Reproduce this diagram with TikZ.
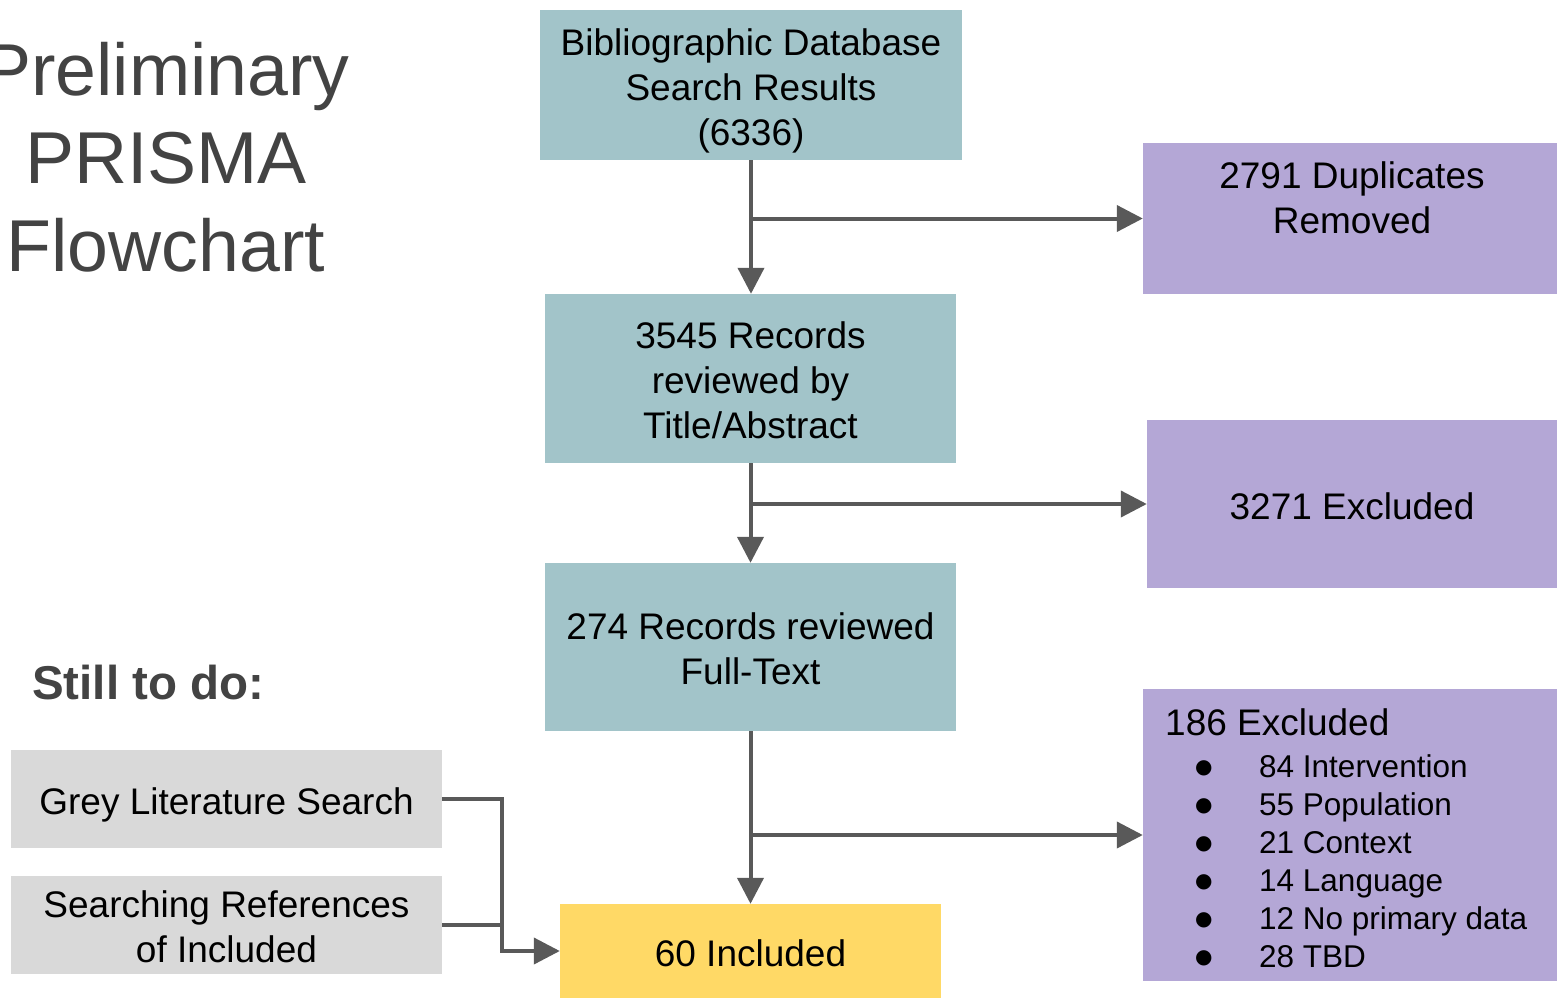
\documentclass[tikz,border=0pt]{standalone}
\usepackage{fontspec}
\setmainfont{Liberation Sans}
\newfontfamily\symfont{DejaVu Sans}
\usetikzlibrary{arrows.meta}

\definecolor{stagecol}{HTML}{A2C4C9}
\definecolor{exclcol}{HTML}{B4A7D6}
\definecolor{inclcol}{HTML}{FFD966}
\definecolor{todocol}{HTML}{D9D9D9}
\definecolor{headcol}{HTML}{434343}
\definecolor{flowcol}{HTML}{595959}

\newcommand{\tstrut}{\rule{0pt}{40pt}}
\newcommand{\bstrut}{\rule[-10pt]{0pt}{0pt}}
\newcommand{\itembullet}{\hspace*{30pt}\makebox[64pt][l]{\raisebox{4pt}{\symfont\fontsize{20}{38}\selectfont ●}}}

\tikzset{
  box/.style={inner sep=0pt, align=center, font=\fontsize{37}{45}\selectfont},
  stage/.style={box, fill=stagecol},
  excl/.style={box, fill=exclcol},
  todo/.style={box, fill=todocol},
  flow/.style={draw=flowcol, line width=4pt, -{Triangle[length=26pt,width=26pt]}},
  link/.style={draw=flowcol, line width=4pt}
}

\begin{document}
\begin{tikzpicture}[x=1pt,y=-1pt]
  \useasboundingbox (0,0) rectangle (1558,999);

  % title and notes
  \node[align=center, anchor=base, text=headcol, font=\fontsize{73.5}{88}\selectfont] (title) at (166,271) {Preliminary\\PRISMA\\Flowchart};
  \node[anchor=west, inner sep=0pt, text=headcol, font=\fontsize{47.5}{55}\selectfont\bfseries] (still) at (32,683) {Still to do:};

  % main column
  \node[stage, minimum width=422, minimum height=150] (bib) at (751,85) {\tstrut Bibliographic Database\\Search Results\\(6336)\bstrut};
  \node[stage, minimum width=411, minimum height=169] (rec) at (750.5,378.5) {\tstrut 3545 Records\\reviewed by\\Title/Abstract\bstrut};
  \node[stage, minimum width=411, minimum height=168] (full) at (750.5,647) {\tstrut 274 Records reviewed\\Full-Text\bstrut};
  \node[box, fill=inclcol, minimum width=381, minimum height=94] (incl) at (750.5,951) {\tstrut 60 Included\bstrut};

  % exclusions
  \node[excl, minimum width=414, minimum height=151] (dup) at (1350,218.5) {};
  \node[box] (duptext) at (1352,196) {\tstrut 2791 Duplicates\\Removed\bstrut};
  \node[excl, minimum width=410, minimum height=168] (excla) at (1352,504) {\tstrut 3271 Excluded\bstrut};
  \node[excl, minimum width=414, minimum height=292] (exclb) at (1350,835) {};
  \node[align=left, anchor=base west, inner sep=0pt, font=\fontsize{31.5}{38}\selectfont] (exclbtext) at (1165,967)
    {{\fontsize{37}{38}\selectfont 186 Excluded}\\[4pt]
     \itembullet 84 Intervention\\
     \itembullet 55 Population\\
     \itembullet 21 Context\\
     \itembullet 14 Language\\
     \itembullet 12 No primary data\\
     \itembullet 28 TBD};

  % still to do
  \node[todo, minimum width=431, minimum height=98] (grey) at (226.5,799) {\tstrut Grey Literature Search\bstrut};
  \node[todo, minimum width=431, minimum height=98] (refs) at (226.5,925) {\tstrut Searching References\\of Included\bstrut};
  \coordinate (join) at (502,0);

  % connectors
  \draw[flow] (bib.south) -- (bib.south |- rec.north);
  \draw[flow] (bib.south |- dup.west) -- (dup.west);
  \draw[flow] (rec.south) -- (rec.south |- full.north);
  \draw[flow] (rec.south |- excla.west) -- (excla.west);
  \draw[flow] (full.south) -- (full.south |- incl.north);
  \draw[flow] (full.south |- exclb.west) -- (exclb.west);
  \draw[flow] (grey.east) -- (grey.east -| join) |- (incl.west);
  \draw[link] (refs.east) -- (refs.east -| join);
\end{tikzpicture}
\end{document}
